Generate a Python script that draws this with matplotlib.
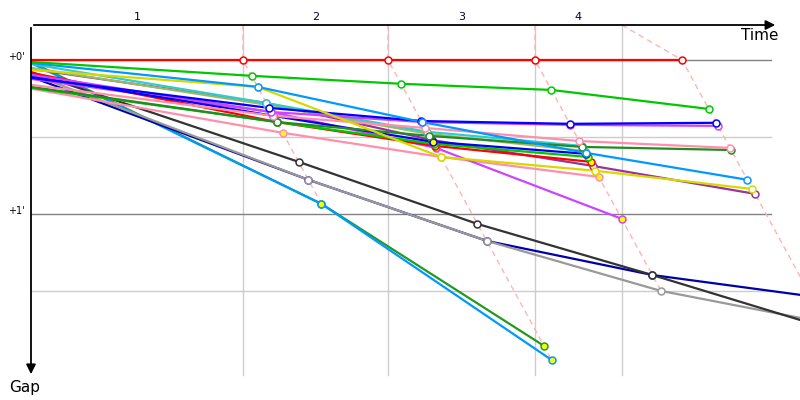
import numpy as np
import matplotlib.pyplot as plt

# lap marks (s): leader's time at end of each lap, and the time gridlines
lap_names = ["1", "2", "3", "4"]
leader_laps = [151.4, 255.0, 360.0, 465.0]
lap_marks = [151.4, 255.0, 360.0, 422.1]

# one entry per rider
colors = ["#ff0000", "#00c800", "#0099ff", "#d8d800", "#0000ff", "#cc44ff",
          "#ff8fab", "#228b22", "#33cccc", "#99bb66", "#0000ee", "#00c800",
          "#ff0000", "#993399", "#cc44ff", "#ff8fab", "#333333", "#999999",
          "#0000aa", "#0099ff", "#229922"]
# gap to the leader in seconds: at the start and after each lap (nan = not reached)
gap_start = [0, 0.8, 1.2, 3.9, 7.0, 5.8, 9.7, 10.5, 1.6, 3.1, 6.2, 10.9,
             5.0, 3.5, 7.4, 11.2, 4.7, 5.4, 6.6, 1.2, 0.8]
gap_lap1 = [0, 6.2, 10.5, 10.5, 18.7, 20.3, 21.8, 24.2, 16.8, 17.5, 21.8, 24.2,
            24.2, 16.8, 20.3, 28.4, 39.7, 46.7, 46.7, 56.1, 56.1]
gap_lap2 = [0, 9.3, 24.2, 37.8, 23.8, 24.2, 26.5, 29.6, 28.0, 28.8, 31.9, 32.7,
            33.5, 31.2, 34.3, 37.8, 63.9, 70.5, 70.5, 116.9, 111.4]
gap_lap3 = [0, 11.7, 36.2, 43.2, 24.9, 25.3, 31.6, 33.9, 33.5, 35.5, 36.6, 37.8,
            39.7, 41.3, 61.9, 45.6, 83.8, 90.0, 83.8, np.nan, np.nan]
gap_lap4 = [0, 19.1, 46.7, 50.3, 24.5, 25.7, 34.3, 35.1, np.nan, np.nan, np.nan, np.nan,
            np.nan, 52.2, np.nan, np.nan, 104.7, 102.4, 92.1, np.nan, np.nan]
yellow_fill = [False, False, False, False, False, False, False, False, False, False, True, True,
               True, False, True, True, False, False, False, True, True]

gaps = np.array([gap_start, gap_lap1, gap_lap2, gap_lap3, gap_lap4]).T
times = np.hstack([np.zeros((len(colors), 1)), np.array(leader_laps) + gaps[:, 1:]])

fig = plt.figure(figsize=(8, 4), dpi=100)
ax = fig.add_axes([31 / 800, 0, 769 / 800, 375 / 400])
top, bottom = -13.6, 132.5
ax.set_xlim(0, 549.3)
ax.set_ylim(bottom, top)
ax.axis("off")

# grid
for t in lap_marks:
    ax.plot([t, t], [top, 122.7], color="#cccccc", lw=1, zorder=1)
for g in [0, 30, 60, 90]:
    ax.plot([0, 528.6], [g, g], color="#808080" if g % 60 == 0 else "#cccccc", lw=1, zorder=1)

# lap lines (dashed) through every rider's lap mark
for k in range(4):
    g = gaps[:, k + 1]
    ok = ~np.isnan(g)
    order = np.argsort(g[ok])
    xs = np.concatenate([[lap_marks[k]], times[ok, k + 1][order]])
    ys = np.concatenate([[top], g[ok][order]])
    ax.plot(xs, ys, color="#ffb4b4", lw=1, ls=(0, (4, 3)), zorder=2)

# riders
for i in reversed(range(len(colors))):
    ok = ~np.isnan(gaps[i])
    ax.plot(times[i, ok], gaps[i, ok], color=colors[i], lw=1.6, zorder=3,
            solid_capstyle="butt")
    ax.plot(times[i, 1:][ok[1:]], gaps[i, 1:][ok[1:]], "o", ms=5, mew=1.1,
            mec=colors[i], mfc="#ffff00" if yellow_fill[i] else "white", zorder=4)

# axes arrows
ax.annotate("", xy=(533.6, top), xytext=(0, top), annotation_clip=False,
            arrowprops=dict(arrowstyle="-|>", color="black", lw=1.3, mutation_scale=14))
ax.annotate("", xy=(0, 123.5), xytext=(0, top), annotation_clip=False,
            arrowprops=dict(arrowstyle="-|>", color="black", lw=1.3, mutation_scale=14))
ax.text(533.6, top + 3.9, "Time", ha="right", va="center", fontsize=11, clip_on=False)
ax.text(-4.3, 127.5, "Gap", ha="center", va="center", fontsize=11, clip_on=False)

# labels
bounds = [0] + lap_marks
for k, name in enumerate(lap_names):
    ax.text((bounds[k] + bounds[k + 1]) / 2, top - 3.1, name, ha="center", va="center",
            fontsize=8, color="#000040", clip_on=False)
for g, lab in [(0, "+0'"), (60, "+1'")]:
    ax.text(-4.5, g - 1, lab, ha="right", va="center", fontsize=7, clip_on=False)

fig.savefig("out.png", dpi=100)
